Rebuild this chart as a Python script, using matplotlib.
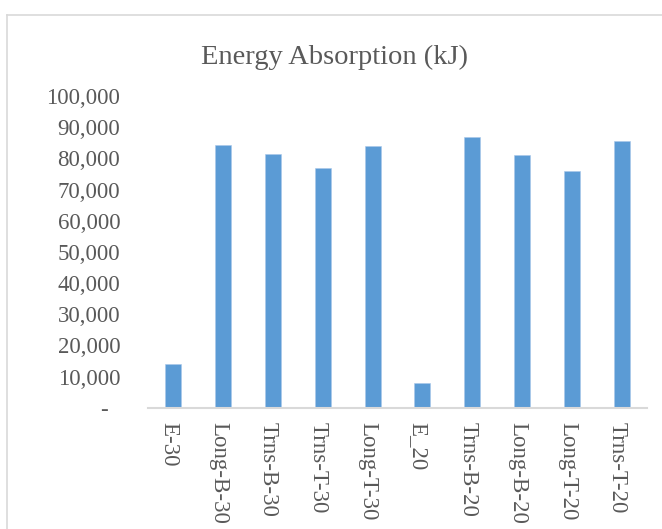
import matplotlib
matplotlib.use("Agg")
import matplotlib.pyplot as plt
from matplotlib.lines import Line2D
from matplotlib.ticker import FuncFormatter
from matplotlib.transforms import ScaledTranslation

# Energy absorbed by each specimen configuration
specimens = ["E-30", "Long-B-30", "Trns-B-30", "Trns-T-30", "Long-T-30",
             "E_20", "Trns-B-20", "Long-B-20", "Long-T-20", "Trns-T-20"]
energy_kj = [14000, 84300, 81300, 76800, 84000,
             7900, 86700, 81200, 76000, 85700]
y_ticks = [0, 10000, 20000, 30000, 40000, 50000, 60000, 70000, 80000, 90000, 100000]

TEXT = "#595959"
LINE = "#D9D9D9"
BAR = "#5B9BD5"
FONT = ["Liberation Serif", "DejaVu Serif"]

plt.rcParams["font.family"] = FONT

W, H = 662, 529
fig = plt.figure(figsize=(W / 100, H / 100), dpi=100)
ax = fig.add_axes([148 / W, 1 - 407.7 / H, (647 - 148) / W, (407.7 - 96) / H])

x = range(len(specimens))
ax.bar(x, energy_kj, width=0.32, color=BAR, edgecolor="#A9C8EA", linewidth=0.4)

ax.set_xlim(-0.5, len(specimens) - 0.5)
ax.set_ylim(0, 100000)
ax.set_yticks(y_ticks)
ax.yaxis.set_major_formatter(FuncFormatter(lambda v, p: "-  " if v == 0 else f"{int(v):,}"))
ax.set_xticks(list(x))
ax.set_xticklabels(specimens, rotation=-90, va="top", ha="center")

for side in ("left", "right", "top"):
    ax.spines[side].set_visible(False)
ax.spines["bottom"].set_color(LINE)
ax.spines["bottom"].set_linewidth(1.5)
ax.tick_params(axis="both", length=0, colors=TEXT, labelsize=16.5)
ax.tick_params(axis="y", pad=20)
ax.tick_params(axis="x", pad=10)

# nudge the rotated category labels slightly left
shift = ScaledTranslation(-4.5 / 100, 0, fig.dpi_scale_trans)
for lbl in ax.get_xticklabels():
    lbl.set_transform(lbl.get_transform() + shift)

fig.text(335 / W, 1 - 57 / H, "Energy Absorption (kJ)", ha="center", va="center",
         fontsize=20.5, color=TEXT)

# Chart-area frame (left and top edges fall inside the canvas)
fig.add_artist(Line2D([6.5 / W, 6.5 / W], [0, 1 - 15 / H], transform=fig.transFigure,
                      color=LINE, linewidth=1.2))
fig.add_artist(Line2D([6.5 / W, 1], [1 - 15 / H, 1 - 15 / H], transform=fig.transFigure,
                      color=LINE, linewidth=1.2))

fig.savefig("out.png", dpi=100, facecolor="white")
